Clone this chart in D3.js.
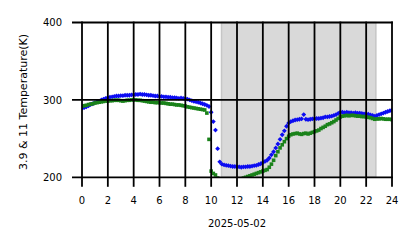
<!DOCTYPE html>
<html>
<head>
<meta charset="utf-8">
<script src="https://cdn.jsdelivr.net/npm/d3@7"></script>
<style>
  html, body { margin: 0; padding: 0; background: #fff; }
  svg text { font-family: "DejaVu Sans", sans-serif; fill: #000; }
</style>
</head>
<body>
<svg id="chart"></svg>
<script>
// brightness temperature (K), one reading every 10 minutes from 00:00 to 24:00
const t39 = [
    289, 290, 291, 292.5, 294, 295, 296.5, 297.5, 298.5, 300, 301, 302,
    303, 303.5, 304, 304.5, 305, 305, 305.5, 305.5, 306, 306, 306, 306.5,
    306.5, 307, 307, 307.5, 307, 307, 306.5, 306, 306, 305.5, 305, 305,
    304.5, 304.5, 304, 304, 303.5, 303.5, 303, 303, 302.5, 302, 302.5, 302,
    301.5, 301, 300, 299, 298, 297.5, 297, 296, 295, 294, 293, 291.5,
    284, 272, 261, 237, 220, 217, 216, 215.5, 215, 214.5, 214, 214,
    213.5, 213.5, 213, 213.5, 213.5, 214, 214, 214.5, 215, 215.5, 216.5, 217.5,
    219, 220.5, 222, 225, 229, 233, 238, 243, 249, 255, 260, 266,
    270, 272, 273, 274, 274.5, 275, 275.5, 281, 275, 274.5, 275, 275.5,
    275.5, 276, 276, 276.5, 277, 278, 278, 278.5, 279, 280, 281, 282.5,
    284, 284, 283.5, 284, 283.5, 283.5, 283, 283.5, 283, 283, 282.5, 282,
    282, 281.5, 280.5, 280, 279, 280, 281, 282, 283, 284, 285, 286,
    287
];
const t11 = [
    292, 292.5, 293, 294, 294.5, 295, 296, 296.5, 297, 297.5, 298, 298.5,
    298.5, 299, 299, 299.5, 299.5, 299.5, 299, 298.5, 299, 299.5, 299.5, 300,
    300, 300, 299.5, 299.5, 299, 298.5, 298, 297.5, 297, 297, 296.5, 296.5,
    296.5, 296, 296, 295.5, 295, 294.5, 294.5, 294, 293.5, 293.5, 293, 292.5,
    292, 291, 290.5, 290, 289.5, 289, 288.5, 288, 287.5, 287, 283, 249,
    208, 205, 203, 199, 197, 195, 193, 192, 191, 190, 190, 191,
    193, 195, 197, 199, 200, 201, 202, 203, 204, 205, 206, 207,
    208, 209, 210, 213, 217, 222, 228, 233, 238, 242, 246, 250,
    253, 255, 256, 256.5, 257, 256, 255.5, 256.5, 257, 256, 257, 258,
    259, 260, 261, 263, 264.5, 266, 268, 269, 270.5, 272, 274, 276,
    278, 279, 279.5, 280, 279.5, 280, 280, 279.5, 279, 279, 278.5, 278.5,
    278, 277.5, 277, 276, 275, 275.5, 275.5, 276, 275.5, 275, 275, 275,
    274.5
];
const xTicks = [0, 2, 4, 6, 8, 10, 12, 14, 16, 18, 20, 22, 24];
const yTicks = [200, 300, 400];
const nightSpan = [10.8, 22.75];  // shaded period (hours)
const dateLabel = '2025-05-02';
const yLabel = '3.9 & 11 Temperature(K)';

const width = 418;
const height = 248;
const plot = { left: 82, right: 392, top: 22.5, bottom: 177.3 };

const svg = d3.select('#chart')
    .attr('width', width)
    .attr('height', height);

const x = d3.scaleLinear().domain([0, 24]).range([plot.left, plot.right]);
const y = d3.scaleLinear().domain([200, 400]).range([plot.bottom, plot.top]);

svg.append('clipPath').attr('id', 'clip')
    .append('rect')
    .attr('x', plot.left).attr('y', plot.top)
    .attr('width', plot.right - plot.left).attr('height', plot.bottom - plot.top);

// shaded period
svg.append('rect')
    .attr('x', x(nightSpan[0]))
    .attr('y', plot.top)
    .attr('width', x(nightSpan[1]) - x(nightSpan[0]))
    .attr('height', plot.bottom - plot.top)
    .attr('fill', '#d9d9d9')
    .attr('stroke', '#c6c6c6')
    .attr('stroke-width', 1.5);

const pts = svg.append('g').attr('clip-path', 'url(#clip)');
const hour = (d, i) => i / 6;

pts.selectAll('.b39')
    .data(t39)
    .join('path')
    .attr('class', 'b39')
    .attr('d', d3.symbol(d3.symbolDiamond2, 15))
    .attr('transform', (d, i) => `translate(${x(hour(d, i))},${y(d)})`)
    .attr('fill', '#0c0cf2');

pts.selectAll('.b11')
    .data(t11)
    .join('rect')
    .attr('class', 'b11')
    .attr('x', (d, i) => x(hour(d, i)) - 1.8)
    .attr('y', d => y(d) - 1.8)
    .attr('width', 3.6)
    .attr('height', 3.6)
    .attr('fill', '#1a821a');

// grid lines on top of the data
const grid = svg.append('g').attr('stroke', '#000').attr('stroke-width', 1.8);
grid.selectAll('.vg')
    .data(xTicks)
    .join('line')
    .attr('x1', d => x(d)).attr('x2', d => x(d))
    .attr('y1', plot.top - 0.9).attr('y2', plot.bottom + 9.5);
grid.selectAll('.hg')
    .data(yTicks)
    .join('line')
    .attr('x1', plot.left - 10).attr('x2', plot.right + 0.9)
    .attr('y1', d => y(d)).attr('y2', d => y(d));

// tick labels
svg.append('g').selectAll('text')
    .data(xTicks)
    .join('text')
    .attr('x', d => x(d))
    .attr('y', 204)
    .attr('text-anchor', 'middle')
    .attr('font-size', 10)
    .text(d => d);

svg.append('g').selectAll('text')
    .data(yTicks)
    .join('text')
    .attr('x', 62)
    .attr('y', d => y(d) + 3.6)
    .attr('text-anchor', 'end')
    .attr('font-size', 10)
    .text(d => d);

svg.append('text')
    .attr('x', 237)
    .attr('y', 227)
    .attr('text-anchor', 'middle')
    .attr('font-size', 10)
    .text(dateLabel);

svg.append('text')
    .attr('transform', 'translate(27,102) rotate(-90)')
    .attr('text-anchor', 'middle')
    .attr('font-size', 11)
    .text(yLabel);
</script>
</body>
</html>
